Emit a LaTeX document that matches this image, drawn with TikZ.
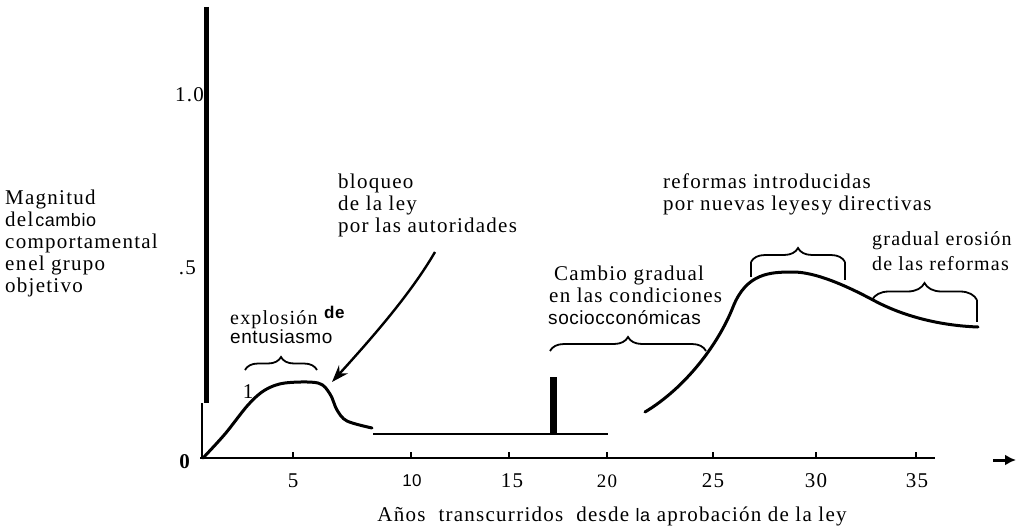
\documentclass[tikz,border=0pt]{standalone}
\usepackage{fontspec}
\setmainfont{Liberation Serif}[LetterSpace=6]
\newfontfamily\sansf{Liberation Sans}[LetterSpace=3]
\usetikzlibrary{decorations.pathreplacing,arrows.meta}
\begin{document}
\begin{tikzpicture}[x=1pt,y=-1pt,
  every node/.style={font=\fontsize{21}{22}\selectfont, inner sep=0pt},
  lbl/.style={align=left, anchor=west},
  curve/.style={line width=3pt, line cap=round, line join=round},
  axisline/.style={line width=2.6pt},
  brc/.style={decorate, decoration={brace, amplitude=#1}, line width=1.8pt},
  bext/.style={line width=1.6pt},
  ticklbl/.style={anchor=center}]
\useasboundingbox (0,0) rectangle (1023,532);

% axes
\draw[line width=5pt] (206,7) -- (206,403);
\draw[line width=2.5pt] (202,403) -- (202,458);
\draw[axisline] (200,458) -- (935,458);
\foreach \x in {293,411,509,607,713,816,916}
  \draw[line width=1.3pt] (\x,458) -- (\x,452);

% axis labels
\node[anchor=east] (y10) at (204,95) {1.0};
\node[anchor=east] (y05) at (196,268) {.5};
\node[anchor=east] (y00) at (190,462) {\bfseries 0};
\node[ticklbl] (t5) at (293,481) {5};
\node[ticklbl] (t10) at (412,481) {\sansf\fontsize{17}{20}\selectfont 10};
\node[ticklbl] (t15) at (512,481) {15};
\node[ticklbl] (t20) at (607,481) {\fontsize{19}{20}\selectfont 20};
\node[ticklbl] (t25) at (713,481) {25};
\node[ticklbl] (t30) at (816,481) {30};
\node[ticklbl] (t35) at (917,481) {35};
\coordinate (ra) at (993,460);
\coordinate (rb) at (1016,460);
\draw[line width=3pt, -{Latex[length=11pt,width=11pt]}] (ra) -- (rb);

\node[lbl] (ylabel) at (5,243) {Magnitud\\del\hspace{2pt}{\sansf\fontsize{18}{22}\selectfont cambio}\\comporta\hspace{1pt}mental\\en\hspace{2pt}el grupo\\objetivo};
\node[anchor=center] (xlabel) at (612,516) {Años\ \ transcurridos\ \ desde {\sansf\fontsize{18}{22}\selectfont la} aprobación de la ley};

% first phase
\draw[curve] plot[smooth, tension=0.55] coordinates {(203,458) (225,434) (248,405) (265,390) (285,383) (318,383) (330,394) (337,410) (347,421) (372,428)};
\node (one) at (248,392) {1};
\draw[brc=13pt] (245,370) -- (317,370);
\node[lbl, font=\fontsize{20}{22}\selectfont] (expl) at (230,320) {explosión};
\node[lbl] (de) at (324,312) {\sansf\bfseries\fontsize{17}{20}\selectfont de};
\node[lbl] (entu) at (230,337) {\sansf\fontsize{19}{22}\selectfont entusiasmo};

\node[lbl] (bloq) at (338,205) {bloqueo\\de la ley\\por las autoridades};
\coordinate (bs) at (435,252);
\coordinate (be) at (332,382);
\draw[line width=2.4pt, -{Stealth[length=17pt,width=12pt]}] (bs) .. controls (410,295) and (370,340) .. (be);

% plateau
\draw[line width=2.5pt] (373,434) -- (608,434);
\fill (550,377) rectangle (557,434);

\node[lbl] (camb) at (548,295) {\hspace{6pt}Cambio gradual\\\hspace{1pt}en las condiciones\\{\sansf\fontsize{19}{23}\selectfont socioc\-conómicas}};
\draw[brc=14pt] (550,351) -- (706,351);

% second phase
\draw[curve] (645,412) .. controls (685,388) and (718,345) .. (733,307)
  .. controls (746.5,273) and (770,272) .. (793,272)
  .. controls (815,272) and (845,285) .. (873,300)
  .. controls (910,320) and (950,326) .. (978,327);
\draw[brc=14pt] (751,262) -- (845,262);
\draw[bext] (751,262) -- (751,277);
\draw[bext] (845,262) -- (845,280);
\node[lbl] (refo) at (663,194) {reformas introducidas\\por nuevas leyes\hspace{2pt}y directivas};
\draw[brc=17pt] (872,300) -- (977,300);
\draw[bext] (977,300) -- (977,322);
\node[lbl, font=\fontsize{20}{25}\selectfont] (eros) at (872,251) {gradual erosión\\de las reformas};
\end{tikzpicture}
\end{document}
